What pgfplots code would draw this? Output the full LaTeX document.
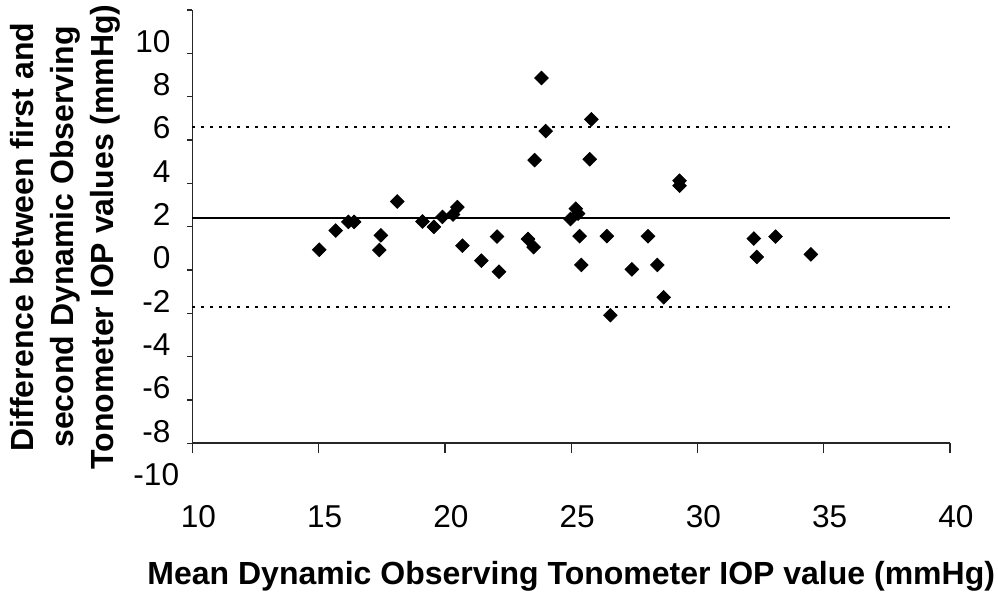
\documentclass[border=0pt]{standalone}
\usepackage{pgfplots}
\pgfplotsset{compat=1.18}
\usepackage{fontspec}
\setmainfont{Liberation Sans}
\begin{document}
\begin{tikzpicture}
\useasboundingbox (-96.25pt,-74.35pt) rectangle (402.75pt,221.65pt);
\begin{axis}[
  at={(0,0)}, anchor=south west,
  scale only axis,
  width=378.75pt, height=216.65pt,
  xmin=10, xmax=40, ymin=-8, ymax=12,
  axis lines*=left,
  axis line style={line width=0.8pt, black!85},
  clip=false,
  tick align=outside,
  xtick={10,15,20,25,30,35,40},
  xticklabels={10,15,20,25,30,35,40},
  ytick={-8,-6,-4,-2,0,2,4,6,8,10,12},
  yticklabels={-8,-6,-4,-2,0,2,4,6,8,10,{}},
  xtick style={line width=0.7pt, black!85, /pgfplots/major tick length=5pt},
  ytick style={line width=0.7pt, black!85, /pgfplots/major tick length=2.6pt},
  xticklabel style={anchor=base, inner sep=0pt, yshift=-37.8pt, xshift=3pt, font=\fontsize{15.8}{18}\selectfont},
  yticklabel style={anchor=east, inner sep=0pt, xshift=-6.5pt, yshift=6pt, font=\fontsize{15.8}{18}\selectfont},
  xlabel={Mean Dynamic Observing Tonometer IOP value (mmHg)},
  xlabel style={at={(axis description cs:0.5,0)}, anchor=base, yshift=-70.85pt, inner sep=0pt, font=\fontsize{16}{18}\selectfont\bfseries},
  ylabel={Difference between first and\\second Dynamic Observing\\Tonometer IOP values (mmHg)},
  ylabel style={at={(axis description cs:0,0.476)}, anchor=center, yshift=63.75pt, align=center, inner sep=0pt, font=\fontsize{16}{20}\selectfont\bfseries},
]
\addplot[black, line width=1.1pt] coordinates {(10,2.39) (40,2.39)};
\addplot[black, line width=1.1pt, dash pattern=on 1.3pt off 3.2pt] coordinates {(10,6.61) (40,6.61)};
\addplot[black, line width=1.1pt, dash pattern=on 1.3pt off 3.2pt] coordinates {(10,-1.72) (40,-1.72)};
\addplot[only marks, mark=square*, mark size=2.4pt, mark options={rotate=45, fill=black, draw=black}] table {
x y
15.02 0.93
15.67 1.82
16.17 2.22
16.40 2.22
18.11 3.16
17.46 1.60
17.40 0.92
19.11 2.24
19.56 1.99
19.90 2.45
20.32 2.56
20.49 2.90
20.69 1.12
21.44 0.43
22.06 1.54
22.14 -0.08
23.29 1.43
23.51 1.05
23.82 8.86
23.99 6.41
23.55 5.07
25.80 6.95
25.73 5.11
24.97 2.35
25.18 2.83
25.27 2.60
25.33 1.56
25.40 0.23
26.41 1.56
26.55 -2.09
27.40 0.03
28.04 1.56
28.41 0.23
28.66 -1.26
29.29 4.12
29.29 3.89
32.23 1.45
32.35 0.60
33.09 1.54
34.49 0.72
};
\node[anchor=east, inner sep=0pt, font=\fontsize{15.8}{18}\selectfont] at (axis cs:10,-10) [xshift=-6.5pt, yshift=6pt] {-10};
\end{axis}
\end{tikzpicture}
\end{document}
